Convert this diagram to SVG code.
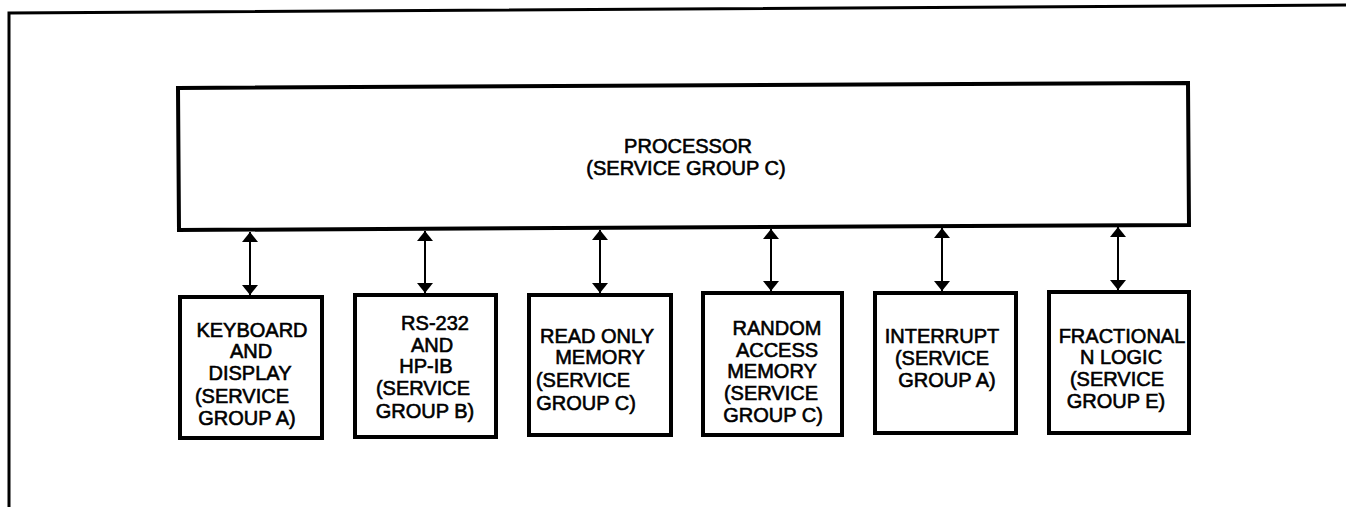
<svg xmlns="http://www.w3.org/2000/svg" width="1346" height="507" viewBox="0 0 1346 507">
<style>
.frame{fill:none;stroke:#000;stroke-width:3}
.box{fill:#fff;stroke:#000;stroke-width:4;stroke-linejoin:miter}
.t{font-family:"Liberation Sans",Arial,sans-serif;font-size:20px;fill:#000;stroke:#000;stroke-width:0.6;text-anchor:middle}
.conn{stroke:#000;stroke-width:2;fill:none}
</style>
<defs>
<marker id="ah" viewBox="0 0 10 16" refX="10" refY="8" markerWidth="10" markerHeight="16" markerUnits="userSpaceOnUse" orient="auto-start-reverse">
<path d="M0,0 L10,8 L0,16 z" fill="#000"/>
</marker>
</defs>
<rect width="1346" height="507" fill="#fff"/>
<path class="frame" d="M9,507 L9,13 L1346,5"/>
<g id="processor">
<path class="box" d="M178,88 L1188,83 L1189,225 L179,230 Z"/>
<text class="t" x="688" y="153">PROCESSOR</text>
<text class="t" x="686" y="175">(SERVICE GROUP C)</text>
</g>
<g id="keyboard">
<rect class="box" x="180" y="297" width="142" height="141"/>
<text class="t" x="252" y="337">KEYBOARD</text>
<text class="t" x="251" y="358">AND</text>
<text class="t" x="250" y="380">DISPLAY</text>
<text class="t" x="242" y="403">(SERVICE</text>
<text class="t" x="247" y="425">GROUP A)</text>
</g>
<g id="rs232">
<rect class="box" x="355" y="295" width="141" height="142"/>
<text class="t" x="435" y="330">RS-232</text>
<text class="t" x="432" y="352">AND</text>
<text class="t" x="426" y="373">HP-IB</text>
<text class="t" x="423" y="395">(SERVICE</text>
<text class="t" x="425" y="418">GROUP B)</text>
</g>
<g id="rom">
<rect class="box" x="529" y="295" width="142" height="140"/>
<text class="t" x="597" y="343">READ ONLY</text>
<text class="t" x="600" y="364">MEMORY</text>
<text class="t" x="583" y="387">(SERVICE</text>
<text class="t" x="586" y="410">GROUP C)</text>
</g>
<g id="ram">
<rect class="box" x="703" y="293" width="139" height="142"/>
<text class="t" x="777" y="335">RANDOM</text>
<text class="t" x="777" y="357">ACCESS</text>
<text class="t" x="772" y="378">MEMORY</text>
<text class="t" x="771" y="400">(SERVICE</text>
<text class="t" x="773" y="422">GROUP C)</text>
</g>
<g id="interrupt">
<rect class="box" x="875" y="293" width="141" height="140"/>
<text class="t" x="942" y="343">INTERRUPT</text>
<text class="t" x="942" y="365">(SERVICE</text>
<text class="t" x="947" y="387">GROUP A)</text>
</g>
<g id="fractional">
<rect class="box" x="1049" y="292" width="140" height="141"/>
<text class="t" x="1122" y="343">FRACTIONAL</text>
<text class="t" x="1121" y="364">N LOGIC</text>
<text class="t" x="1117" y="386">(SERVICE</text>
<text class="t" x="1116" y="408">GROUP E)</text>
</g>
<g id="connectors">
<line class="conn" x1="250" y1="232" x2="250" y2="295" marker-start="url(#ah)" marker-end="url(#ah)"/>
<line class="conn" x1="425" y1="231" x2="425" y2="293" marker-start="url(#ah)" marker-end="url(#ah)"/>
<line class="conn" x1="600" y1="230" x2="600" y2="293" marker-start="url(#ah)" marker-end="url(#ah)"/>
<line class="conn" x1="771" y1="229" x2="771" y2="291" marker-start="url(#ah)" marker-end="url(#ah)"/>
<line class="conn" x1="942" y1="228" x2="942" y2="291" marker-start="url(#ah)" marker-end="url(#ah)"/>
<line class="conn" x1="1118" y1="227" x2="1118" y2="290" marker-start="url(#ah)" marker-end="url(#ah)"/>
</g>
</svg>
